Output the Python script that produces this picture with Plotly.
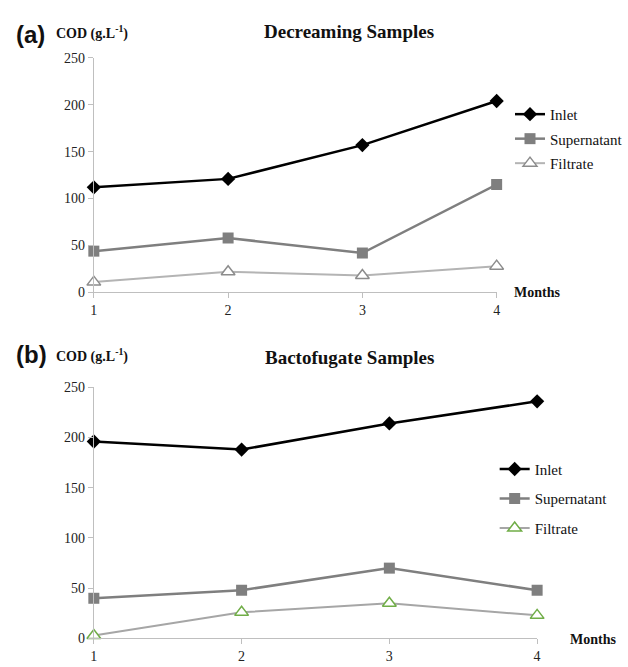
import plotly.graph_objects as go

months = [1, 2, 3, 4]
series_names = ["Inlet", "Supernatant", "Filtrate"]

# Panel (a) Decreaming samples, COD g/L
dec_inlet = [112, 121, 157, 204]
dec_super = [44, 58, 42, 115]
dec_filt = [11, 22, 18, 28]

# Panel (b) Bactofugate samples, COD g/L
bac_inlet = [196, 188, 214, 236]
bac_super = [40, 48, 70, 48]
bac_filt = [3, 26, 35, 23]

W, H = 628, 667
def px(x):
    return x / W
def py(y):
    return 1 - y / H

serif = "Liberation Serif"
sans = "Liberation Sans"

fig = go.Figure()

def add_set(vals, xa, ya, leg, filt_marker_color, filt_line_color):
    inlet, sup, filt = vals
    fig.add_trace(go.Scatter(
        x=months, y=inlet, name=series_names[0], mode="lines+markers",
        line=dict(color="#000000", width=2.5),
        marker=dict(symbol="diamond", size=11, color="#000000"),
        xaxis=xa, yaxis=ya, legend=leg, legendgroup=leg + "i", cliponaxis=False))
    fig.add_trace(go.Scatter(
        x=months, y=sup, name=series_names[1], mode="lines+markers",
        line=dict(color="#7f7f7f", width=2.5),
        marker=dict(symbol="square", size=11, color="#7f7f7f"),
        xaxis=xa, yaxis=ya, legend=leg, legendgroup=leg + "s", cliponaxis=False))
    fig.add_trace(go.Scatter(
        x=months, y=filt, name=series_names[2], mode="lines+markers",
        line=dict(color=filt_line_color, width=2),
        marker=dict(symbol="triangle-up", size=12, color="#ffffff",
                    line=dict(color=filt_marker_color, width=1.5)),
        xaxis=xa, yaxis=ya, legend=leg, legendgroup=leg + "f", cliponaxis=False))

add_set((dec_inlet, dec_super, dec_filt), "x", "y", "legend", "#8c8c8c", "#b4b4b4")
add_set((bac_inlet, bac_super, bac_filt), "x2", "y2", "legend2", "#70ad47", "#a6a6a6")

axis_common = dict(
    showline=True, linecolor="#bfbfbf", linewidth=1, showgrid=False, zeroline=False,
    ticks="outside", ticklen=5, tickcolor="#bfbfbf",
    tickfont=dict(family=serif, size=14, color="#222222"),
)

fig.update_layout(
    width=W, height=H, margin=dict(l=0, r=0, t=0, b=0),
    paper_bgcolor="white", plot_bgcolor="white",
    font=dict(family=serif),
    xaxis=dict(domain=[px(91), px(499)], range=[1, 4], tickvals=months, anchor="y", **axis_common),
    yaxis=dict(domain=[py(292), py(52)], range=[0, 250], tickvals=[0, 50, 100, 150, 200, 250], anchor="x", **axis_common),
    xaxis2=dict(domain=[px(91), px(540)], range=[1, 4], tickvals=months, anchor="y2", **axis_common),
    yaxis2=dict(domain=[py(646), py(389)], range=[0, 250], tickvals=[0, 50, 100, 150, 200, 250], anchor="x2", **axis_common),
    legend=dict(x=px(513), y=py(93), xanchor="left", yanchor="top",
                font=dict(family=serif, size=15, color="#111111"),
                bgcolor="rgba(0,0,0,0)", itemwidth=30, tracegroupgap=2),
    legend2=dict(x=px(497), y=py(456), xanchor="left", yanchor="top",
                 font=dict(family=serif, size=15, color="#111111"),
                 bgcolor="rgba(0,0,0,0)", itemwidth=30, tracegroupgap=7),
    showlegend=True,
)

ann = []
def text(x, y, t, size, family=serif, bold=True, color="#111111"):
    ann.append(dict(x=px(x), y=py(y), xref="paper", yref="paper", text=("<b>%s</b>" % t) if bold else t,
                    showarrow=False, xanchor="center", yanchor="middle",
                    font=dict(family=family, size=size, color=color)))

text(27, 28, "(a)", 24, sans)
text(89, 26, "COD (g.L<sup>-1</sup>)", 14)
text(349, 25, "Decreaming Samples", 19)
text(540, 292, "Months", 14)
text(28, 355, "(b)", 24, sans)
text(89, 357, "COD (g.L<sup>-1</sup>)", 14)
text(350, 359, "Bactofugate Samples", 19)
text(597, 647, "Months", 14)
fig.update_layout(annotations=ann)

fig.write_html("out.html")
